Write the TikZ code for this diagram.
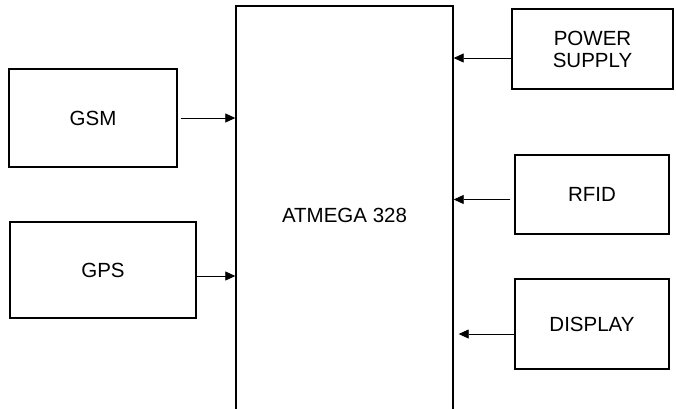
\documentclass[tikz,border=0pt]{standalone}
\usepackage{fontspec}
\setmainfont{Liberation Sans}
\usetikzlibrary{arrows.meta}
\begin{document}
\begin{tikzpicture}[x=1pt, y=-1pt,
  block/.style={draw, line width=1.4pt, align=center, inner sep=0pt,
    font=\fontsize{20.5}{22}\selectfont},
  arrow/.style={-{Triangle[length=10pt,width=9pt]}, line width=0.8pt}
]
\useasboundingbox (0,0) rectangle (676,408);
\clip (0,0) rectangle (676,408);
\node[block, minimum width=217pt, minimum height=418pt] (mcu) at (344.5,215) {ATMEGA 328};
\node[block, minimum width=168pt, minimum height=98pt] (gsm) at (93,118) {GSM};
\node[block, minimum width=186pt, minimum height=96pt] (gps) at (103,270) {GPS};
\node[block, minimum width=161pt, minimum height=80pt] (power) at (592.5,49) {POWER\\SUPPLY};
\node[block, minimum width=154pt, minimum height=79pt] (rfid) at (592,194.5) {RFID};
\node[block, minimum width=154pt, minimum height=90pt] (display) at (592,324) {DISPLAY};
\draw[arrow] ([xshift=3pt]gsm.east) -- (gsm.east -| mcu.west);
\draw[arrow] ([yshift=-6pt]gps.east) -- ([yshift=-6pt]gps.east -| mcu.west);
\draw[arrow] ([yshift=-9pt]power.west) -- ([yshift=-9pt]power.west -| mcu.east);
\draw[arrow] ([yshift=-5pt,xshift=-4pt]rfid.west) -- ([yshift=-5pt]rfid.west -| mcu.east);
\draw[arrow, shorten >=5pt] ([yshift=-10pt]display.west) -- ([yshift=-10pt]display.west -| mcu.east);
\end{tikzpicture}
\end{document}
